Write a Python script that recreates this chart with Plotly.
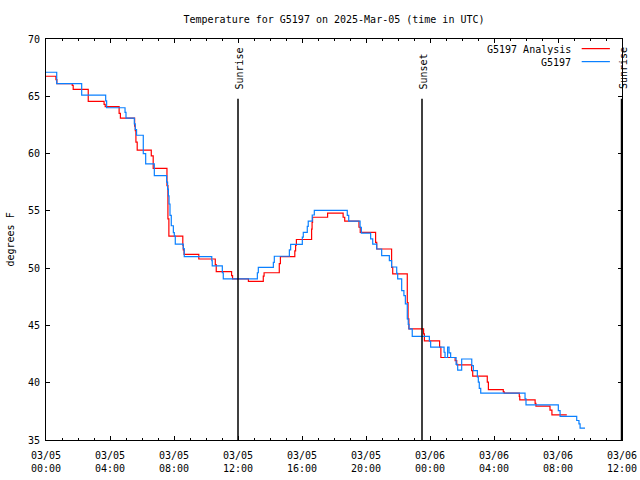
import pandas as pd
import plotly.graph_objects as go

BASE = "2025-03-05 00:00"

# Analysis series (hours after BASE, degrees F)
analysis_hours = [0, 0.62, 0.68, 1.64, 1.7, 2.64, 3.63, 3.7, 4.57, 4.65, 5.54, 5.58, 5.62, 5.7,
                  6.58, 6.7, 7.56, 7.62, 7.68, 8.55, 8.58, 8.63, 9.55, 10.58, 10.64, 11.6, 11.66,
                  12.65, 13.58, 13.63, 14.58, 14.65, 15.55, 15.6, 15.65, 16.6, 16.63, 16.66, 17.6,
                  18.57, 18.67, 19.56, 19.64, 20.6, 20.67, 21.6, 21.67, 22.58, 22.63, 22.68, 23.6,
                  23.65, 24.6, 24.68, 25.57, 25.67, 26.6, 26.67, 27.58, 27.65, 28.58, 28.64, 29.58,
                  29.61, 30.57, 30.62, 31.5, 31.62, 32.55]
analysis_temp = [66.75, 66.45, 66.1, 65.95, 65.6, 64.56, 64.3, 64.1, 63.5, 63.1, 62.4, 62.0, 61.0, 60.3,
                 59.8, 58.7, 57.2, 54.3, 52.8, 52.0, 51.6, 51.2, 50.8, 50.3, 49.7, 49.35, 49.06,
                 48.85, 49.3, 49.6, 50.4, 51.0, 51.5, 52.0, 52.5, 53.4, 54.0, 54.44, 54.8,
                 54.44, 54.1, 53.57, 53.13, 52.25, 51.67, 50.07, 49.5, 47.0, 45.57, 44.7, 44.26,
                 43.65, 43.1, 42.2, 41.93, 41.55, 41.05, 40.57, 40.05, 39.4, 39.2, 39.1, 38.8,
                 38.5, 38.2, 37.95, 37.6, 37.2, 37.2]

# Observed series
obs_hours = [0, 0.67, 2.23, 3.73, 3.79, 4.94, 5.0, 5.52, 5.58, 5.66, 6.08, 6.23, 6.77, 7.54, 7.6,
             7.65, 7.69, 7.75, 7.83, 7.96, 8.02, 8.08, 8.58, 8.64, 10.36, 10.39, 11.02, 11.08,
             13.21, 13.27, 14.21, 14.27, 15.21, 15.29, 16.02, 16.08, 16.33, 16.39, 16.64, 16.77,
             18.83, 18.92, 19.63, 19.71, 20.29, 20.42, 20.67, 20.98, 21.46, 21.6, 21.92, 21.98,
             22.23, 22.37, 22.46, 22.58, 22.64, 22.69, 22.89, 23.96, 24.04, 24.88, 24.94, 25.1,
             25.19, 25.29, 25.63, 25.73, 25.98, 26.61, 26.71, 26.96, 27.02, 27.08, 27.17, 29.94,
             30.0, 32.02, 32.13, 33.17, 33.31, 33.38, 33.69]
obs_temp = [67.1, 66.1, 65.1, 64.6, 64.0, 63.6, 63.1, 62.6, 62.1, 61.6, 60.0, 59.1, 58.07, 57.5, 56.9,
            56.3, 55.6, 54.6, 53.7, 53.1, 52.8, 52.1, 51.7, 51.0, 50.65, 50.2, 49.6, 49.06,
            49.6, 50.07, 50.5, 51.04, 51.6, 52.08, 52.7, 53.13, 53.65, 54.1, 54.64, 55.05,
            54.6, 54.1, 53.57, 53.05, 52.55, 52.1, 51.67, 51.1, 50.65, 50.1, 49.55, 49.06,
            48.04, 47.6, 46.88, 45.57, 45.1, 44.7, 44.05, 43.62, 43.1, 42.66, 42.2, 43.1,
            42.6, 42.2, 41.6, 41.1, 42.07, 41.5, 41.06, 40.5, 40.05, 39.5, 39.1, 38.6,
            38.06, 37.56, 37.07, 36.7, 36.4, 36.03, 36.03]

# Sun events
event_names = ["Sunrise", "Sunset", "Sunrise"]
event_hours = [12.0, 23.5, 35.97]

# Axis ticks
x_tick_hours = [0, 4, 8, 12, 16, 20, 24, 28, 32, 36]
x_tick_labels = ["03/05<br>00:00", "03/05<br>04:00", "03/05<br>08:00", "03/05<br>12:00",
                 "03/05<br>16:00", "03/05<br>20:00", "03/06<br>00:00", "03/06<br>04:00",
                 "03/06<br>08:00", "03/06<br>12:00"]
y_ticks = [35, 40, 45, 50, 55, 60, 65, 70]

base = pd.Timestamp(BASE)
def to_time(hours):
    return [base + pd.Timedelta(hours=h) for h in hours]

FONT = "DejaVu Sans Mono"
RED = "#FF0000"
BLUE = "#0A80FF"

fig = go.Figure()
fig.add_trace(go.Scatter(x=to_time(analysis_hours), y=analysis_temp, mode="lines",
                         line=dict(color=RED, width=1.2, shape="hv"), name="G5197 Analysis",
                         showlegend=False))
fig.add_trace(go.Scatter(x=to_time(obs_hours), y=obs_temp, mode="lines",
                         line=dict(color=BLUE, width=1.2, shape="hv"), name="G5197",
                         showlegend=False))

line_top = 0.851
shapes = []
annotations = []
for name, h in zip(event_names, event_hours):
    t = base + pd.Timedelta(hours=h)
    shapes.append(dict(type="line", xref="x", yref="paper", x0=t, x1=t, y0=0, y1=line_top,
                       line=dict(color="black", width=1.5)))
    annotations.append(dict(x=t, y=0.869, xref="x", yref="paper", text=name, textangle=-90,
                            showarrow=False, xanchor="center", yanchor="bottom", xshift=2,
                            font=dict(family=FONT, size=10, color="black")))

# legend (gnuplot style: text then sample line on the right)
legend_items = [("G5197 Analysis", RED, 0.975), ("G5197", BLUE, 0.9426)]
for txt, col, yy in legend_items:
    annotations.append(dict(x=0.915, y=yy, xref="paper", yref="paper", text=txt, showarrow=False,
                            xanchor="right", yanchor="middle",
                            font=dict(family=FONT, size=10, color="black")))
    shapes.append(dict(type="line", xref="paper", yref="paper", x0=0.930, x1=0.979,
                       y0=yy + 0.001, y1=yy + 0.001, line=dict(color=col, width=1.2)))

annotations.append(dict(x=-0.0625, y=0.5, xref="paper", yref="paper", text="degrees F",
                        textangle=-90, showarrow=False, xanchor="center", yanchor="middle",
                        font=dict(family=FONT, size=10, color="black")))

fig.update_layout(
    width=640, height=480,
    margin=dict(l=46, r=18, t=39, b=40, autoexpand=False),
    paper_bgcolor="white", plot_bgcolor="white",
    font=dict(family=FONT, size=10, color="black"),
    title=dict(text="Temperature for G5197 on 2025-Mar-05 (time in UTC)", x=0.5, xref="paper",
               y=1 - 19 / 480, yref="container", yanchor="middle", xanchor="center",
               automargin=False, font=dict(family=FONT, size=10, color="black")),
    shapes=shapes, annotations=annotations,
)
fig.update_xaxes(type="date", range=[base, base + pd.Timedelta(hours=36)],
                 tickvals=to_time(x_tick_hours), ticktext=x_tick_labels, automargin=False,
                 ticks="inside", ticklen=4, tickcolor="black", showgrid=False,
                 ticklabelstandoff=6,
                 showline=True, linecolor="black", linewidth=1, mirror="ticks",
                 minor=dict(ticks="inside", ticklen=2, dtick=3600000, tickcolor="black",
                            showgrid=False),
                 zeroline=False, tickfont=dict(family=FONT, size=10, color="black"))
fig.update_yaxes(range=[35, 70], tickvals=y_ticks, ticktext=[str(v) for v in y_ticks],
                 ticks="inside", ticklen=4, tickcolor="black", showgrid=False, automargin=False,
                 ticklabelstandoff=3,
                 showline=True, linecolor="black", linewidth=1, mirror="ticks",
                 zeroline=False, tickfont=dict(family=FONT, size=10, color="black"))

fig.write_html("out.html", config={"displayModeBar": False},
               post_script="document.body.style.margin='0';document.body.style.overflow='hidden';")
